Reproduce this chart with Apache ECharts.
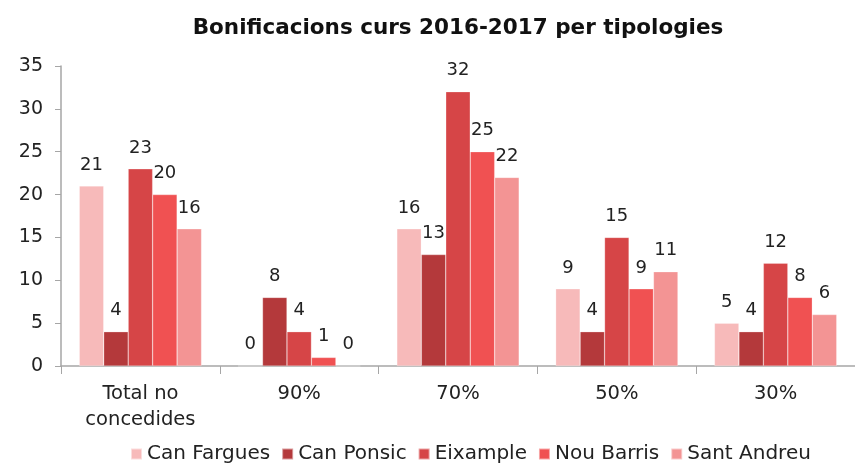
<!DOCTYPE html>
<html>
<head>
<meta charset="utf-8">
<script src="https://cdn.jsdelivr.net/npm/echarts@6/dist/echarts.min.js"></script>
<style>
  html, body { margin: 0; padding: 0; background: #fff; }
  #chart { width: 855px; height: 464px; }
</style>
</head>
<body>
<div id="chart"></div>
<script>
// categories and values
const categories = ['Total no\nconcedides', '90%', '70%', '50%', '30%'];
const seriesNames = ['Can Fargues', 'Can Ponsic', 'Eixample', 'Nou Barris', 'Sant Andreu'];
const canFargues = [21, 0, 16, 9, 5];
const canPonsic = [4, 8, 13, 4, 4];
const eixample = [23, 4, 32, 15, 12];
const nouBarris = [20, 1, 25, 9, 8];
const santAndreu = [16, 0, 22, 11, 6];
const yTicks = [0, 5, 10, 15, 20, 25, 30, 35];

const colors = ['#F7BABA', '#B4393B', '#D64547', '#F05152', '#F39494'];
const values = [canFargues, canPonsic, eixample, nouBarris, santAndreu];
const font = '"DejaVu Sans", sans-serif';

const chart = echarts.init(document.getElementById('chart'));

const series = seriesNames.map((name, i) => ({
  name,
  type: 'bar',
  data: values[i],
  barGap: '0%',
  barCategoryGap: '23%',
  itemStyle: { color: colors[i], borderColor: 'rgba(255,255,255,0.5)', borderWidth: 0.5 },
  label: {
    show: true,
    position: 'top',
    distance: 12,
    color: '#222',
    fontSize: 18,
    fontFamily: font,
  },
}));

chart.setOption({
  animation: false,
  title: {
    text: 'Bonificacions curs 2016-2017 per tipologies',
    left: 453,
    top: 12,
    textAlign: 'center',
    textStyle: { fontSize: 21.5, fontWeight: 'bold', color: '#111', fontFamily: font },
  },
  legend: {
    top: 439,
    left: 125,
    itemWidth: 11,
    itemHeight: 11,
    itemGap: 11,
    icon: 'rect',
    textStyle: { fontSize: 20, color: '#222', fontFamily: font, padding: [0, 0, 0, 0] },
  },
  grid: { left: 61, top: 66, width: 800, height: 300, containLabel: false },
  xAxis: {
    type: 'category',
    data: categories,
    axisLine: { lineStyle: { color: '#A6A6A6', width: 1.5 } },
    axisTick: { show: true, length: 8, lineStyle: { color: '#A6A6A6' } },
    axisLabel: { color: '#222', fontSize: 19.5, fontFamily: font, margin: 15, lineHeight: 26 },
  },
  yAxis: {
    type: 'value',
    min: yTicks[0],
    max: yTicks[yTicks.length - 1],
    interval: 5,
    axisLine: { show: true, lineStyle: { color: '#A6A6A6', width: 1.5 } },
    axisTick: { show: true, length: 6, lineStyle: { color: '#A6A6A6' } },
    splitLine: { show: false },
    axisLabel: { color: '#222', fontSize: 19, fontFamily: font, margin: 18 },
  },
  series,
});
</script>
</body>
</html>
